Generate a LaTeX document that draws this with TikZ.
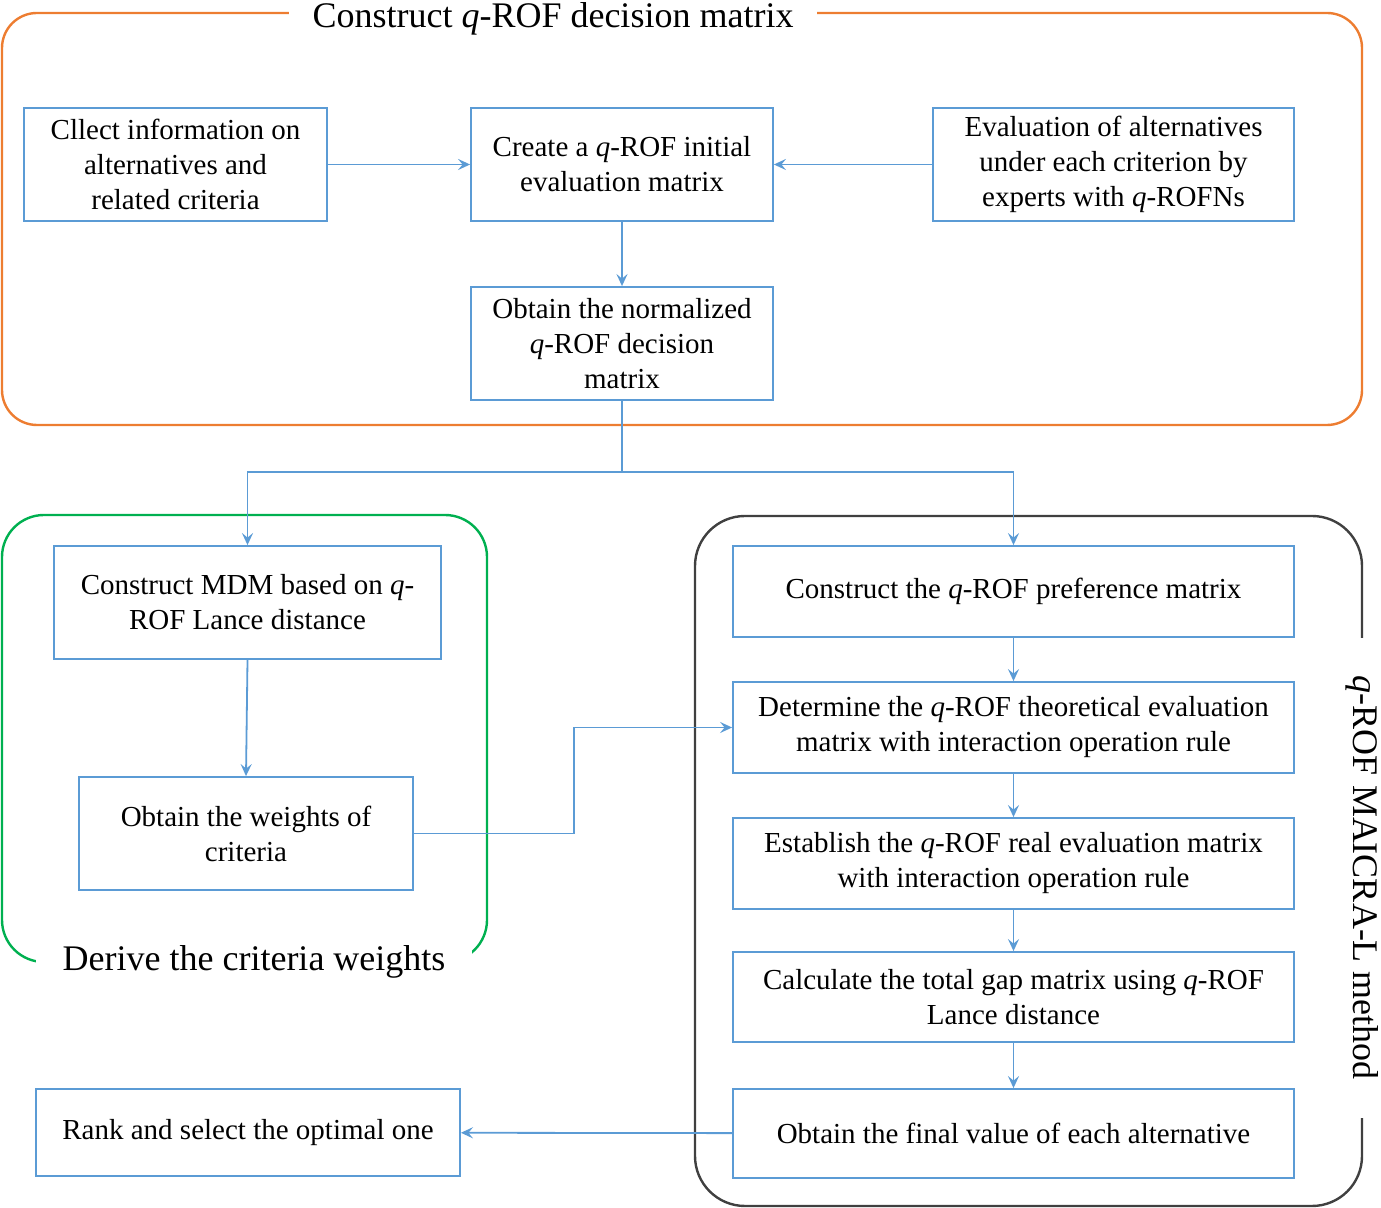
\documentclass[tikz,border=0pt]{standalone}
\usepackage{fontspec}
\setmainfont{Liberation Serif}
\usepackage{tikz}
\usetikzlibrary{arrows.meta}
\usetikzlibrary{positioning}
\usetikzlibrary{calc}
\definecolor{boxblue}{RGB}{91,155,213}
\definecolor{frameorange}{RGB}{237,125,49}
\definecolor{framegreen}{RGB}{0,176,80}
\definecolor{framedark}{RGB}{64,64,64}
\newcommand{\qv}{\textit{q}}
\tikzset{>={Stealth[length=12bp,width=11bp,inset=4.5bp]}, semithick}
\tikzset{procbox/.style={draw=boxblue, line width=1.8bp, inner sep=0pt, align=center,
  font=\fontsize{29bp}{35bp}\selectfont},
  flow/.style={->, draw=boxblue, line width=1.8bp},
  frametitle/.style={fill=white, inner sep=0pt, font=\fontsize{36bp}{42bp}\selectfont}}

\begin{document}
\begin{tikzpicture}[line join=miter]
\useasboundingbox (0bp,0bp) rectangle (1381bp,1208bp);
%%
  \draw [frameorange, line width=2.4bp, rounded corners=35bp] (2bp,783bp) rectangle (1362bp,1195bp);
  \node (ttop) at (553bp,1189bp) [frametitle, minimum width=528bp, minimum height=20bp] {Construct \qv-ROF decision matrix};
  \draw [framegreen, line width=2.4bp, rounded corners=42bp] (2bp,246bp) rectangle (487bp,693bp);
  \node (tleft) at (254bp,246bp) [frametitle, minimum width=436bp, minimum height=34bp] {Derive the criteria weights};
  \draw [framedark, line width=2.4bp, rounded corners=50bp] (695bp,2bp) rectangle (1362bp,692bp);
  \node (tright) at (1362bp,330bp) [frametitle, rotate=-90, minimum width=480bp, minimum height=20bp] {\qv-ROF MAICRA-L method};
%%
  \node (info) at (175.5bp,1043.5bp) [procbox, minimum width=303bp, minimum height=113bp] {Cllect information on\\alternatives and\\related criteria};
  \node (init) at (622bp,1043.5bp) [procbox, minimum width=302bp, minimum height=113bp] {Create a \qv-ROF initial\\evaluation matrix};
  \node (expert) at (1113.5bp,1043.5bp) [procbox, minimum width=361bp, minimum height=113bp] {Evaluation of alternatives\\under each criterion by\\experts with \qv-ROFNs};
  \node (norm) at (622bp,864.5bp) [procbox, minimum width=302bp, minimum height=113bp] {Obtain the normalized\\\qv-ROF decision\\matrix};
  \node (mdm) at (247.5bp,605.5bp) [procbox, minimum width=387bp, minimum height=113bp] {Construct MDM based on \qv-\\ROF Lance distance};
  \node (wts) at (246bp,374.5bp) [procbox, minimum width=334bp, minimum height=113bp] {Obtain the weights of\\criteria};
  \node (pref) at (1013.5bp,616.5bp) [procbox, minimum width=561bp, minimum height=91bp] {Construct the \qv-ROF preference matrix};
  \node (theo) at (1013.5bp,480.5bp) [procbox, minimum width=561bp, minimum height=91bp] {Determine the \qv-ROF theoretical evaluation\\matrix with interaction operation rule};
  \node (real) at (1013.5bp,344.5bp) [procbox, minimum width=561bp, minimum height=91bp] {Establish the \qv-ROF real evaluation matrix\\with interaction operation rule};
  \node (gap) at (1013.5bp,211bp) [procbox, minimum width=561bp, minimum height=90bp] {Calculate the total gap matrix using \qv-ROF\\Lance distance};
  \node (final) at (1013.5bp,74.5bp) [procbox, minimum width=561bp, minimum height=89bp] {Obtain the final value of each alternative};
  \node (rank) at (248bp,75.5bp) [procbox, minimum width=424bp, minimum height=87bp] {Rank and select the optimal one};
  \coordinate (split) at (622bp,736bp);
%%
  \draw [flow] (info) -- (init);
  \draw [flow] (expert) -- (init);
  \draw [flow] (init) -- (norm);
  \draw [draw=boxblue, line width=1.8bp] (norm.south) -- (split);
  \draw [flow] (split) -| (mdm.north);
  \draw [flow] (split) -| (pref.north);
  \draw [flow] (mdm.south) -- (wts.north);
  \draw [flow] (wts.east) -- ++(160bp,0) |- (theo.west);
  \draw [flow] (pref) -- (theo);
  \draw [flow] (theo) -- (real);
  \draw [flow] (real) -- (gap);
  \draw [flow] (gap) -- (final);
  \draw [flow] (final) -- (rank);
%
\end{tikzpicture}
\end{document}
